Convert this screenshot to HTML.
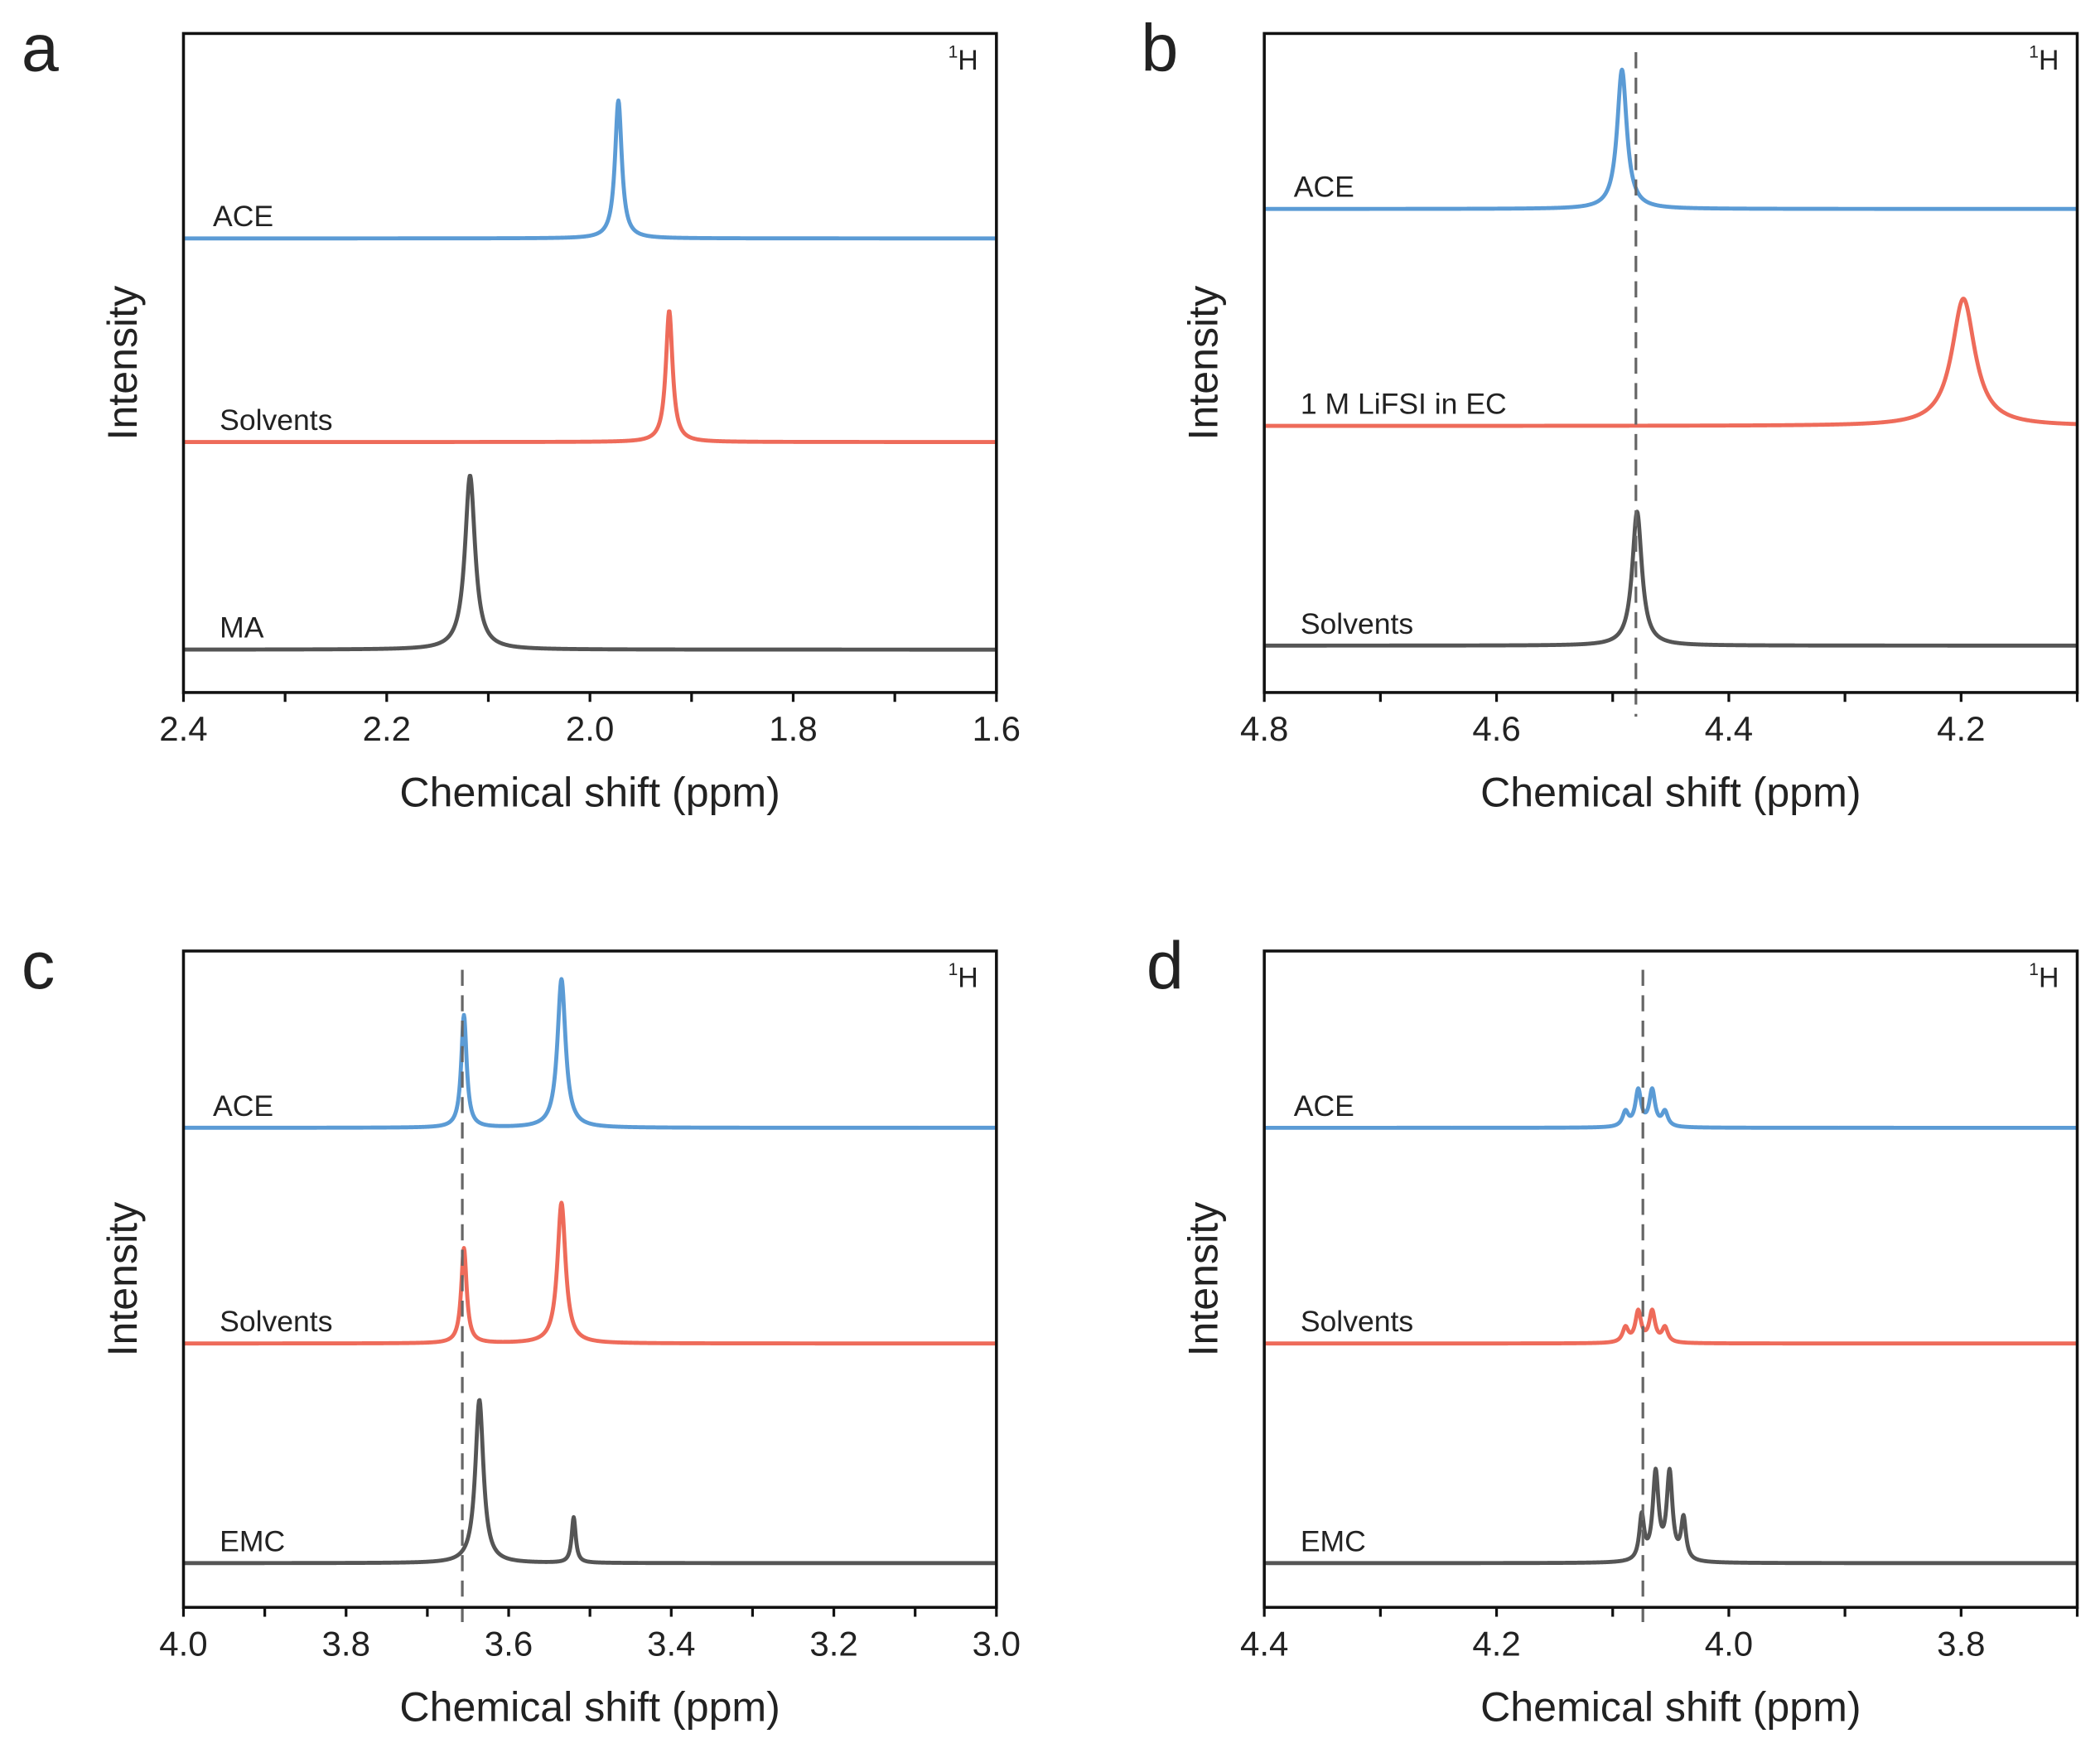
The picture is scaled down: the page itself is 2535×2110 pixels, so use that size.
<!DOCTYPE html>
<html><head><meta charset="utf-8"><style>
html,body{margin:0;padding:0;background:#fff;}
svg{display:block;}
text{font-family:"Liberation Sans",sans-serif;fill:#222;}
</style></head><body>
<svg id="fig" width="2535" height="2110" viewBox="0 0 1568 1305" preserveAspectRatio="none" xmlns="http://www.w3.org/2000/svg"></svg>
<script>
// Panel data (ppm ranges, ticks, series peaks [ppm, height, halfwidth])
const panelLetters = ['a','b','c','d'];
const xRanges = [[2.4,1.6],[4.8,4.1],[4.0,3.0],[4.4,3.7]];
const tickLabels = [['2.4','2.2','2.0','1.8','1.6'],['4.8','4.6','4.4','4.2'],['4.0','3.8','3.6','3.4','3.2','3.0'],['4.4','4.2','4.0','3.8']];
const tickValues = [[2.4,2.2,2.0,1.8,1.6],[4.8,4.6,4.4,4.2],[4.0,3.8,3.6,3.4,3.2,3.0],[4.4,4.2,4.0,3.8]];
const dashedLines = [null, 4.48, 3.657, 4.074];
const seriesNames = [['ACE','Solvents','MA'],['ACE','1 M LiFSI in EC','Solvents'],['ACE','Solvents','EMC'],['ACE','Solvents','EMC']];
const baselines = [[178,330,485],[156,318,482],[842,1003,1167],[842,1003,1167]];
const peaksA = [[[1.972,103,0.004]],[[1.922,98,0.004]],[[2.118,130,0.006]]];
const peaksB = [[[4.492,104,0.005]],[[4.198,95,0.012]],[[4.479,100,0.005]]];
const peaksC = [[[3.655,84,0.004],[3.535,111,0.006]],[[3.655,71,0.004],[3.535,105,0.006]],[[3.636,122,0.006],[3.52,34,0.003]]];
const peaksD = [[[4.089,11,0.003],[4.078,27,0.003],[4.066,27,0.003],[4.055,11,0.003]],[[4.089,11,0.003],[4.078,23,0.003],[4.066,23,0.003],[4.055,11,0.003]],[[4.075,33,0.0025],[4.063,65,0.003],[4.051,65,0.003],[4.039,31,0.0025]]];
const allPeaks = [peaksA, peaksB, peaksC, peaksD];

const NS='http://www.w3.org/2000/svg';
const svg=document.getElementById('fig');
const colors=['#5b9bd5','#ee6b5a','#555555'];
const frames=[[137,25,744,517],[944,25,1551,517],[137,710,744,1200],[944,710,1551,1200]];
const letterX=[16,852,16,856];
function el(tag,attrs,parent){const e=document.createElementNS(NS,tag);for(const k in attrs)e.setAttribute(k,attrs[k]);(parent||svg).appendChild(e);return e;}

frames.forEach((f,p)=>{
  const [x0,y0,x1,y1]=f;
  const [r0,r1]=xRanges[p];
  const xs=v=>x0+(v-r0)/(r1-r0)*(x1-x0);
  const g=el('g',{});
  
  
  seriesNames[p].forEach((nm,s)=>{
    const pk=allPeaks[p][s];const base=baselines[p][s];
    let d='';const N=1400;
    for(let i=0;i<=N;i++){const v=r0+(r1-r0)*i/N;let y=base;
      pk.forEach(q=>{const w=q[2];y-=q[1]*w*w/(w*w+(v-q[0])*(v-q[0]));});
      d+=(i?'L':'M')+xs(v).toFixed(2)+','+y.toFixed(2);}
    const path=el('path',{d:d,fill:'none',stroke:colors[s],'stroke-width':3,'stroke-linejoin':'round'},g);
    
    
    const t=el('text',{x:x0+(s==0?22:27),y:base-9,'font-size':22},g);
    t.textContent=nm;
    
    
  });
  if(dashedLines[p]!==null){
    const dl=el('line',{x1:xs(dashedLines[p]),x2:xs(dashedLines[p]),y1:y0+14,y2:y1+18,stroke:'#666','stroke-width':2,'stroke-dasharray':'12,7'},g);
    
    
  }
  const fr=el('rect',{x:x0,y:y0,width:x1-x0,height:y1-y0,fill:'none',stroke:'#111','stroke-width':2.2},g);
  
  
  const step=(tickValues[p][1]-tickValues[p][0])/2;
  for(let v=r0;(r1<r0?v>=r1-1e-9:v<=r1+1e-9);v+=step){
    el('line',{x1:xs(v),x2:xs(v),y1:y1,y2:y1+7,stroke:'#111','stroke-width':2},g);
  }
  tickValues[p].forEach((v,i)=>{
    const t=el('text',{x:xs(v),y:y1+36,'font-size':26,'text-anchor':'middle'},g);
    t.textContent=tickLabels[p][i];
    
    
  });
  const xt=el('text',{x:(x0+x1)/2,y:y1+85,'font-size':31,'text-anchor':'middle'},g);
  xt.textContent='Chemical shift (ppm)';
  
  
  const yt=el('text',{x:0,y:0,'font-size':31,'text-anchor':'middle',transform:`translate(${x0-35},${(y0+y1)/2}) rotate(-90)`},g);
  yt.textContent='Intensity';
  
  
  const lt=el('text',{x:letterX[p],y:y0+28,'font-size':50},g);
  lt.textContent=panelLetters[p];
  
  
  const h=el('text',{x:x1-36,y:y0+27,'font-size':21},g);
  h.innerHTML='<tspan font-size="13" dy="-9">1</tspan><tspan dy="9">H</tspan>';
  
  
});
</script>
</body></html>
